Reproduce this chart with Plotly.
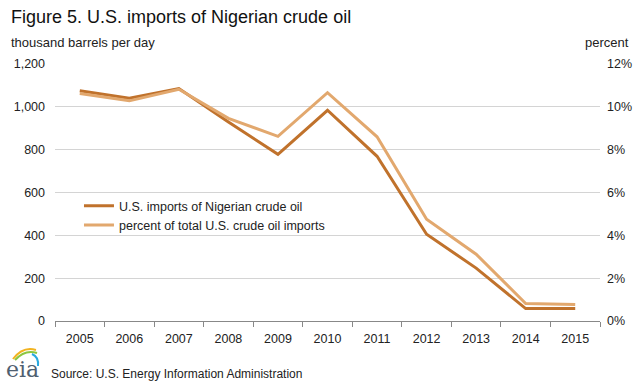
import plotly.graph_objects as go

years = ["2005", "2006", "2007", "2008", "2009", "2010", "2011", "2012", "2013", "2014", "2015"]
imports_kbd = [1075, 1040, 1085, 929, 778, 984, 769, 405, 247, 58, 58]
share_pct = [10.62, 10.28, 10.82, 9.46, 8.62, 10.66, 8.6, 4.75, 3.12, 0.82, 0.77]
y_ticks = [0, 200, 400, 600, 800, 1000, 1200]
y2_ticks = [0, 2, 4, 6, 8, 10, 12]
y2_labels = ["0%", "2%", "4%", "6%", "8%", "10%", "12%"]

DARK = "#C0722C"
LIGHT = "#E2A86E"
FONT = "Liberation Sans, Arial, sans-serif"

L, R, T, B = 55, 35, 64, 68
W, H = 635, 389

fig = go.Figure()
fig.add_trace(go.Scatter(x=years, y=share_pct, mode="lines", name="percent of total U.S. crude oil imports",
                         line=dict(color=LIGHT, width=3), yaxis="y2", hoverinfo="skip"))
fig.add_trace(go.Scatter(x=years, y=imports_kbd, mode="lines", name="U.S. imports of Nigerian crude oil",
                         line=dict(color=DARK, width=3), yaxis="y", hoverinfo="skip"))

TICKFONT = dict(size=12.5, color="#222", family=FONT)

fig.update_layout(
    width=W, height=H,
    margin=dict(l=L, r=R, t=T, b=B, autoexpand=False),
    paper_bgcolor="white", plot_bgcolor="white",
    font=dict(family=FONT, size=12, color="#222"),
    showlegend=True,
    legend=dict(x=0.044, y=0.505, xanchor="left", yanchor="top", bgcolor="rgba(0,0,0,0)",
                font=dict(size=12.5, color="#222", family=FONT), traceorder="reversed", itemwidth=30,
                tracegroupgap=0),
    xaxis=dict(type="category", range=[-0.5, 10.5], tickson="boundaries", ticks="outside", ticklen=5,
               tickcolor="#888", showline=True, linecolor="#888", linewidth=1, showgrid=False,
               tickfont=TICKFONT, ticklabelstandoff=6, automargin=False),
    yaxis=dict(range=[0, 1200], tickvals=y_ticks, tickformat=",", showgrid=True, gridcolor="#d4d4d4",
               gridwidth=1, zeroline=False, showline=False, ticks="", ticklabelstandoff=9,
               tickfont=TICKFONT, automargin=False),
    yaxis2=dict(range=[0, 12], tickvals=y2_ticks, ticktext=y2_labels, overlaying="y", side="right",
                showgrid=False, zeroline=False, showline=False, ticks="", ticklabelstandoff=6,
                tickfont=TICKFONT, automargin=False),
)

def ann(text, x, y, xanchor, size, color="#222", family=FONT):
    fig.add_annotation(text=text, xref="paper", yref="paper",
                       x=(x - L) / (W - L - R), y=(H - B - y) / (H - T - B),
                       xanchor=xanchor, yanchor="middle", showarrow=False,
                       font=dict(size=size, color=color, family=family))

ann("Figure 5. U.S. imports of Nigerian crude oil", 9, 17, "left", 18, "#111")
ann("thousand barrels per day", 9, 42, "left", 13)
ann("percent", 631, 42, "right", 13)
ann("Source: U.S. Energy Information Administration", 49, 374, "left", 12)
ann("eia", 4, 369, "left", 22, "#4f6070", "DejaVu Serif, serif")

def px_to_paper(path):
    out = []
    toks = path.split()
    i = 0
    while i < len(toks):
        t = toks[i]
        if t.isalpha():
            out.append(t); i += 1
        else:
            x = float(toks[i]); y = float(toks[i + 1])
            out.append(f"{(x - L) / (W - L - R):.4f}")
            out.append(f"{(H - B - y) / (H - T - B):.4f}")
            i += 2
    return " ".join(out)

arcs = [("#f2b320", "M 13 359 Q 23 346 36 350"), ("#8cc63f", "M 15 360 Q 25 349 37 353"),
        ("#29a9e0", "M 32 354 Q 39 357 38 366")]
for col, path in arcs:
    fig.add_shape(type="path", path=px_to_paper(path), xref="paper", yref="paper",
                  line=dict(color=col, width=2))

fig.write_html("out.html", config={"displayModeBar": False},
               post_script="document.body.style.margin='0';")
